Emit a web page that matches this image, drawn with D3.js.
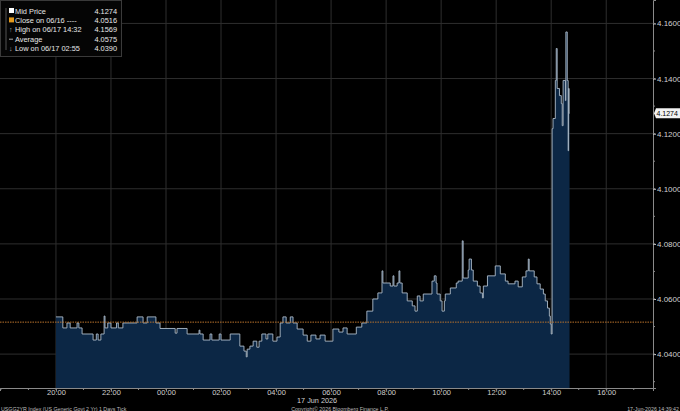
<!DOCTYPE html>
<html>
<head>
<meta charset="utf-8">
<script src="https://cdn.jsdelivr.net/npm/d3@7"></script>
<style>
  html, body { margin: 0; background: #000; }
  svg { display: block; font-family: "Liberation Sans", Arial, sans-serif; }
</style>
</head>
<body>
<div id="chart"></div>
<script>
// tick times (Jun 16 evening -> Jun 17) and mid price
const times = ['20:00', '20:15', '20:24', '20:31', '20:46', '20:50', '20:57', '21:21', '21:28', '21:32',
  '21:38', '21:45', '21:47', '21:53', '22:00', '22:12', '22:16', '22:26', '22:57', '23:10', '23:19',
  '23:38', '23:47', '00:20', '00:24', '00:46', '01:12', '01:14', '01:21', '01:36', '01:40', '01:56',
  '02:00', '02:20', '02:41', '02:50', '02:55', '02:57', '03:03', '03:10', '03:18', '03:23', '03:29',
  '03:38', '03:42', '03:53', '04:02', '04:09', '04:15', '04:22', '04:31', '04:37', '04:46', '04:59',
  '05:08', '05:16', '05:27', '05:36', '05:47', '06:04', '06:17', '06:26', '06:35', '06:55', '07:07',
  '07:18', '07:31', '07:42', '07:51', '07:53', '08:09', '08:15', '08:17', '08:24', '08:28', '08:30',
  '08:35', '08:46', '08:57', '09:03', '09:08', '09:14', '09:21', '09:40', '09:45', '09:49', '09:51',
  '09:58', '10:02', '10:07', '10:09', '10:20', '10:33', '10:37', '10:46', '10:48', '10:59', '11:01',
  '11:06', '11:10', '11:19', '11:25', '11:30', '11:32', '11:41', '11:58', '12:09', '12:20', '12:26',
  '12:41', '12:48', '12:57', '13:05', '13:10', '13:12', '13:23', '13:29', '13:36', '13:43', '13:47',
  '13:52', '13:56', '13:58', '14:00', '14:02', '14:04', '14:09', '14:11', '14:13', '14:18', '14:22',
  '14:24', '14:26', '14:31', '14:32', '14:35', '14:37', '14:38', '14:39', '14:40'];

const prices = [4.0535, 4.0495, 4.0513, 4.0495, 4.0513, 4.0495, 4.0473, 4.0451, 4.0473, 4.0451,
  4.0473, 4.0538, 4.0495, 4.0513, 4.0495, 4.0513, 4.0495, 4.0513, 4.0535, 4.0513, 4.0535,
  4.0513, 4.0493, 4.0476, 4.0493, 4.0473, 4.0487, 4.0473, 4.0451, 4.0473, 4.0451, 4.0473,
  4.0451, 4.0473, 4.0429, 4.0411, 4.039, 4.0418, 4.0429, 4.0447, 4.0425, 4.0447, 4.0473,
  4.0455, 4.0473, 4.0447, 4.0462, 4.0513, 4.0535, 4.0513, 4.0535, 4.0513, 4.0491, 4.0469,
  4.0447, 4.0469, 4.0455, 4.0469, 4.0447, 4.0491, 4.048, 4.0495, 4.0473, 4.0498, 4.0513,
  4.0556, 4.06, 4.0622, 4.0702, 4.0658, 4.0647, 4.0684, 4.0647, 4.0658, 4.0702, 4.0658,
  4.0622, 4.0593, 4.0575, 4.0556, 4.0611, 4.0593, 4.0618, 4.0665, 4.0684, 4.0658, 4.0618,
  4.0593, 4.0556, 4.0593, 4.0618, 4.064, 4.0658, 4.0665, 4.0811, 4.0676, 4.0705, 4.0745,
  4.0705, 4.0665, 4.0647, 4.0622, 4.0604, 4.0647, 4.0684, 4.072, 4.0691, 4.0665, 4.0655,
  4.0665, 4.0644, 4.068, 4.0702, 4.0745, 4.0702, 4.068, 4.0655, 4.0636, 4.0618, 4.0593,
  4.0567, 4.0538, 4.0509, 4.0473, 4.1218, 4.1255, 4.1393, 4.1509, 4.1364, 4.1338, 4.1309,
  4.1229, 4.1393, 4.132, 4.1569, 4.1393, 4.1138, 4.1364, 4.1274, 4.1274];

const prevClose = 4.0516;
const lastPrice = 4.1274;

const xTickLabels = ['20:00', '22:00', '00:00', '02:00', '04:00', '06:00', '08:00', '10:00', '12:00', '14:00', '16:00'];
const yTicks = [4.04, 4.06, 4.08, 4.10, 4.12, 4.14, 4.16];

const legendLabels = ['Mid Price', 'Close on 06/16 ----', 'High on 06/17 14:32', 'Average', 'Low on 06/17 02:55'];
const legendValues = ['4.1274', '4.0516', '4.1569', '4.0575', '4.0390'];

const width = 680;
const height = 411;
const plot = { l: 0, r: 653, t: 0, b: 388 };

// hours at or after 18:00 belong to Jun 16, the rest to Jun 17
function toDate(hm) {
  const [h, m] = hm.split(':').map(Number);
  return new Date(2026, 5, h >= 18 ? 16 : 17, h, m);
}

const data = times.map((t, i) => ({ date: toDate(t), value: prices[i] }));

const svg = d3.select('#chart')
  .append('svg')
  .attr('width', width)
  .attr('height', height);

const x = d3.scaleTime()
  .domain([new Date(2026, 5, 16, 17, 58), new Date(2026, 5, 17, 17, 42)])
  .range([plot.l, plot.r]);

const y = d3.scaleLinear()
  .domain([4.0277, 4.1685])
  .range([plot.b, plot.t]);

// grid
svg.append('g')
  .selectAll('line')
  .data(xTickLabels)
  .join('line')
  .attr('x1', (d) => x(toDate(d)))
  .attr('x2', (d) => x(toDate(d)))
  .attr('y1', plot.t)
  .attr('y2', plot.b)
  .attr('stroke', '#2e2e2e')
  .attr('stroke-width', 1);

svg.append('g')
  .selectAll('line')
  .data(yTicks)
  .join('line')
  .attr('x1', plot.l)
  .attr('x2', plot.r)
  .attr('y1', (d) => y(d))
  .attr('y2', (d) => y(d))
  .attr('stroke', '#2e2e2e')
  .attr('stroke-width', 1);

// area + step line
const area = d3.area()
  .curve(d3.curveStepAfter)
  .x((d) => x(d.date))
  .y0(plot.b)
  .y1((d) => y(d.value));

const line = d3.line()
  .curve(d3.curveStepAfter)
  .x((d) => x(d.date))
  .y((d) => y(d.value));

svg.append('path')
  .datum(data)
  .attr('d', area)
  .attr('fill', '#0c2745');

svg.append('path')
  .datum(data)
  .attr('d', line)
  .attr('fill', 'none')
  .attr('stroke', '#aebccb')
  .attr('stroke-width', 0.9);

// previous close
svg.append('line')
  .attr('x1', plot.l)
  .attr('x2', plot.r)
  .attr('y1', y(prevClose))
  .attr('y2', y(prevClose))
  .attr('stroke', '#b8722c')
  .attr('stroke-width', 1)
  .attr('stroke-dasharray', '1.5,1');

// axes
const xAxis = svg.append('g')
  .attr('transform', `translate(0, ${plot.b})`)
  .call(d3.axisBottom(x)
    .tickValues(xTickLabels.map(toDate))
    .tickFormat(d3.timeFormat('%H:%M'))
    .tickSize(3));
xAxis.select('.domain').attr('stroke', '#8a8a8a');
xAxis.selectAll('.tick line').attr('stroke', '#8a8a8a');
xAxis.selectAll('.tick text')
  .attr('fill', '#d0d0d0')
  .attr('font-size', 7.5)
  .attr('y', 1.5)
  .attr('dy', '0.71em');

// hourly minor ticks
svg.append('g')
  .selectAll('line')
  .data(x.ticks(d3.timeHour.every(1)))
  .join('line')
  .attr('x1', (d) => x(d))
  .attr('x2', (d) => x(d))
  .attr('y1', plot.b)
  .attr('y2', plot.b + 2)
  .attr('stroke', '#8a8a8a');

const yAxis = svg.append('g')
  .attr('transform', `translate(${plot.r}, 0)`)
  .call(d3.axisRight(y)
    .tickValues(yTicks)
    .tickFormat(d3.format('.4f'))
    .tickSize(3));
yAxis.select('.domain').attr('stroke', '#8a8a8a');
yAxis.selectAll('.tick line').attr('stroke', '#d0d0d0');
yAxis.selectAll('.tick text')
  .attr('fill', '#d0d0d0')
  .attr('font-size', 8)
  .attr('x', 4);

svg.append('g')
  .selectAll('line')
  .data(d3.range(4.03, 4.17, 0.01))
  .join('line')
  .attr('x1', plot.r)
  .attr('x2', plot.r + 2)
  .attr('y1', (d) => y(d))
  .attr('y2', (d) => y(d))
  .attr('stroke', '#8a8a8a');

// last price tag
const tagY = y(lastPrice);
svg.append('path')
  .attr('d', `M${plot.r + 1},${tagY} L${plot.r + 3},${tagY - 5} H${width} V${tagY + 5} H${plot.r + 3} Z`)
  .attr('fill', '#f2f2f2');
svg.append('text')
  .attr('x', plot.r + 3.5)
  .attr('y', tagY)
  .attr('dy', '0.35em')
  .attr('font-size', 7)
  .attr('fill', '#000')
  .text(lastPrice.toFixed(4));

// date label under axis
svg.append('text')
  .attr('x', x(toDate('06:00')) - 14)
  .attr('y', 403.3)
  .attr('text-anchor', 'middle')
  .attr('font-size', 7.3)
  .attr('fill', '#d0d0d0')
  .text('17 Jun 2026');

// legend
const legend = svg.append('g');
legend.append('rect')
  .attr('x', 0.5)
  .attr('y', 0.5)
  .attr('width', 121)
  .attr('height', 56)
  .attr('fill', '#050505')
  .attr('stroke', '#3a3a3a');
legend.append('line')
  .attr('x1', 6).attr('x2', 6)
  .attr('y1', 8).attr('y2', 50)
  .attr('stroke', '#555');

const rowY = (i) => 11 + i * 9.4;
legend.selectAll('.lbl')
  .data(legendLabels)
  .join('text')
  .attr('class', 'lbl')
  .attr('x', 15)
  .attr('y', (d, i) => rowY(i))
  .attr('dy', '0.35em')
  .attr('font-size', 7.4)
  .attr('fill', '#e8e8e8')
  .text((d) => d);
legend.selectAll('.val')
  .data(legendValues)
  .join('text')
  .attr('class', 'val')
  .attr('x', 117)
  .attr('y', (d, i) => rowY(i))
  .attr('dy', '0.35em')
  .attr('text-anchor', 'end')
  .attr('font-size', 7.4)
  .attr('fill', '#e8e8e8')
  .text((d) => d);

legend.append('rect').attr('x', 9).attr('y', rowY(0) - 3).attr('width', 5).attr('height', 5).attr('fill', '#fff');
legend.append('rect').attr('x', 9).attr('y', rowY(1) - 3).attr('width', 5).attr('height', 5).attr('fill', '#e39a1c');
legend.append('text').attr('x', 9).attr('y', rowY(2)).attr('dy', '0.35em').attr('font-size', 7).attr('fill', '#aaa').text('↑');
legend.append('line').attr('x1', 9).attr('x2', 13).attr('y1', rowY(3)).attr('y2', rowY(3)).attr('stroke', '#aaa');
legend.append('text').attr('x', 9).attr('y', rowY(4)).attr('dy', '0.35em').attr('font-size', 7).attr('fill', '#aaa').text('↓');

// footer
const footer = svg.append('g').attr('font-size', 5.3).attr('fill', '#bdbdbd');
footer.append('text').attr('x', 1).attr('y', 410.6).text('USGG2YR Index (US Generic Govt 2 Yr) 1 Days Tick');
footer.append('text').attr('x', 340).attr('y', 410.6).attr('text-anchor', 'middle').text('Copyright© 2026 Bloomberg Finance L.P.');
footer.append('text').attr('x', 679).attr('y', 410.6).attr('text-anchor', 'end').text('17-Jun-2026 14:39:42');
</script>
</body>
</html>
